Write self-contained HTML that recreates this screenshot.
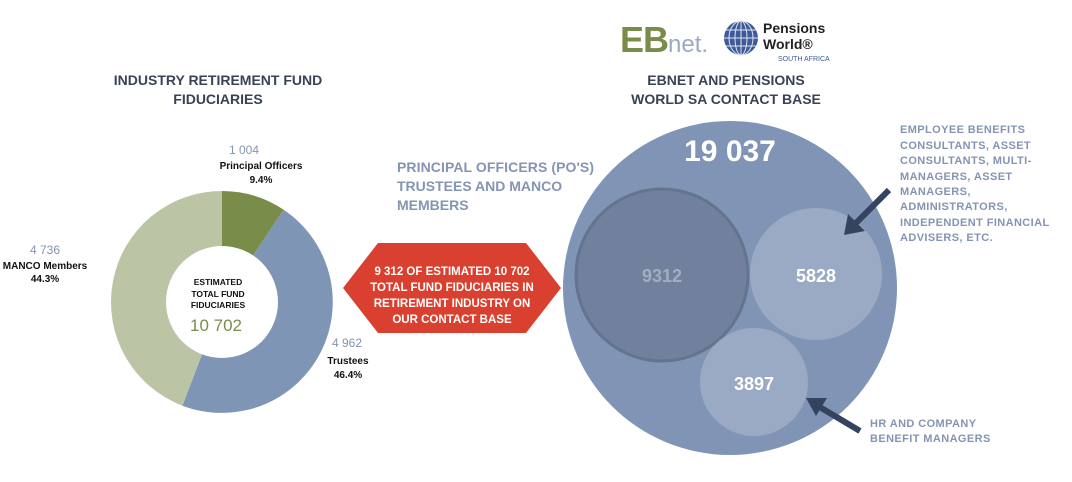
<!DOCTYPE html>
<html><head><meta charset="utf-8"><style>
html,body{margin:0;padding:0;background:#fff;}
svg text{font-family:"Liberation Sans",sans-serif;font-weight:bold;}
</style></head><body>
<svg width="1072" height="477" viewBox="0 0 1072 477" xmlns="http://www.w3.org/2000/svg">
<!-- logo -->
<text x="620" y="52" font-size="36" fill="#7a8c4a" letter-spacing="-1">EB</text>
<text x="668" y="52" font-size="24" fill="#9aaac4" style="font-weight:normal">net.</text>
<circle cx="741" cy="38" r="17" fill="#3f5a9a"/>
<g stroke="#dfe6f2" stroke-width="1" fill="none">
<ellipse cx="741" cy="38" rx="6" ry="17"/><ellipse cx="741" cy="38" rx="12" ry="17"/>
<line x1="741" y1="21" x2="741" y2="55"/>
<line x1="724" y1="38" x2="758" y2="38"/><line x1="726" y1="30" x2="756" y2="30"/><line x1="726" y1="46" x2="756" y2="46"/>
</g>
<text x="763" y="33" font-size="14" fill="#222">Pensions</text>
<text x="763" y="49" font-size="14" fill="#222">World®</text>
<text x="778" y="61" font-size="7" fill="#3f5a9a" style="font-weight:normal">SOUTH AFRICA</text>

<!-- titles -->
<text x="218" y="85" font-size="14" fill="#3a4256" text-anchor="middle">INDUSTRY RETIREMENT FUND</text>
<text x="218" y="104" font-size="14" fill="#3a4256" text-anchor="middle">FIDUCIARIES</text>
<text x="726" y="85" font-size="14" fill="#3a4256" text-anchor="middle">EBNET AND PENSIONS</text>
<text x="726" y="104" font-size="14" fill="#3a4256" text-anchor="middle">WORLD SA CONTACT BASE</text>

<!-- donut -->
<path d="M222,302 L222,191 A111,111 0 0 1 283.7,209.8 Z" fill="#7a8c4a"/>
<path d="M222,302 L283.7,209.8 A111,111 0 0 1 182.4,405.7 Z" fill="#7f95b5"/>
<path d="M222,302 L182.4,405.7 A111,111 0 0 1 222,191 Z" fill="#bcc4a6"/>
<circle cx="222" cy="302" r="56" fill="#fff"/>
<text x="218" y="285" font-size="8.5" fill="#111" text-anchor="middle">ESTIMATED</text>
<text x="218" y="297" font-size="8.5" fill="#111" text-anchor="middle">TOTAL FUND</text>
<text x="218" y="308" font-size="8.5" fill="#111" text-anchor="middle">FIDUCIARIES</text>
<text x="216" y="331" font-size="17" fill="#7a8c4a" text-anchor="middle" style="font-weight:normal">10 702</text>

<text x="244" y="154" font-size="12" fill="#8494b4" text-anchor="middle" style="font-weight:normal">1 004</text>
<text x="261" y="169" font-size="10" fill="#111" text-anchor="middle">Principal Officers</text>
<text x="261" y="183" font-size="10" fill="#111" text-anchor="middle">9.4%</text>
<text x="45" y="254" font-size="12" fill="#8494b4" text-anchor="middle" style="font-weight:normal">4 736</text>
<text x="45" y="269" font-size="10" fill="#111" text-anchor="middle">MANCO Members</text>
<text x="45" y="282" font-size="10" fill="#111" text-anchor="middle">44.3%</text>
<text x="347" y="347" font-size="12" fill="#8494b4" text-anchor="middle" style="font-weight:normal">4 962</text>
<text x="348" y="364" font-size="10" fill="#111" text-anchor="middle">Trustees</text>
<text x="348" y="378" font-size="10" fill="#111" text-anchor="middle">46.4%</text>

<!-- middle -->
<text x="397" y="172" font-size="14" fill="#8494b4" textLength="197">PRINCIPAL OFFICERS (PO'S)</text>
<text x="397" y="191" font-size="14" fill="#8494b4">TRUSTEES AND MANCO</text>
<text x="397" y="210" font-size="14" fill="#8494b4">MEMBERS</text>
<polygon points="343,288 378,243 526,243 561,288 526,333 378,333" fill="#d9402f"/>
<g font-size="11.5" fill="#fff" text-anchor="middle">
<text x="452" y="275">9 312 OF ESTIMATED 10 702</text>
<text x="452" y="291">TOTAL FUND FIDUCIARIES IN</text>
<text x="452" y="307">RETIREMENT INDUSTRY ON</text>
<text x="452" y="323">OUR CONTACT BASE</text>
</g>

<!-- venn -->
<circle cx="730" cy="288" r="167" fill="#8095b5"/>
<text x="730" y="161" font-size="30" fill="#fff" text-anchor="middle">19 037</text>
<circle cx="662" cy="275" r="86" fill="#70809d" stroke="#63748f" stroke-width="3"/>
<text x="662" y="282" font-size="18" fill="#a3adbf" text-anchor="middle">9312</text>
<circle cx="816" cy="274" r="66" fill="#9aaac4"/>
<text x="816" y="282" font-size="18" fill="#fff" text-anchor="middle">5828</text>
<circle cx="754" cy="382" r="54" fill="#9aaac4"/>
<text x="754" y="390" font-size="18" fill="#fff" text-anchor="middle">3897</text>

<!-- arrows -->
<line x1="889" y1="190" x2="855" y2="224" stroke="#34435f" stroke-width="6"/>
<polygon points="844,235 848,214 865,231" fill="#34435f"/>
<line x1="860" y1="431" x2="818" y2="406" stroke="#34435f" stroke-width="6"/>
<polygon points="806,398 827,398 816,416" fill="#34435f"/>

<g font-size="11" fill="#8494b4" letter-spacing="0.4">
<text x="900" y="133">EMPLOYEE BENEFITS</text>
<text x="900" y="149">CONSULTANTS, ASSET</text>
<text x="900" y="164">CONSULTANTS, MULTI-</text>
<text x="900" y="180">MANAGERS, ASSET</text>
<text x="900" y="195">MANAGERS,</text>
<text x="900" y="210">ADMINISTRATORS,</text>
<text x="900" y="226">INDEPENDENT FINANCIAL</text>
<text x="900" y="241">ADVISERS, ETC.</text>
<text x="870" y="427">HR AND COMPANY</text>
<text x="870" y="442">BENEFIT MANAGERS</text>
</g>
</svg>
</body></html>
